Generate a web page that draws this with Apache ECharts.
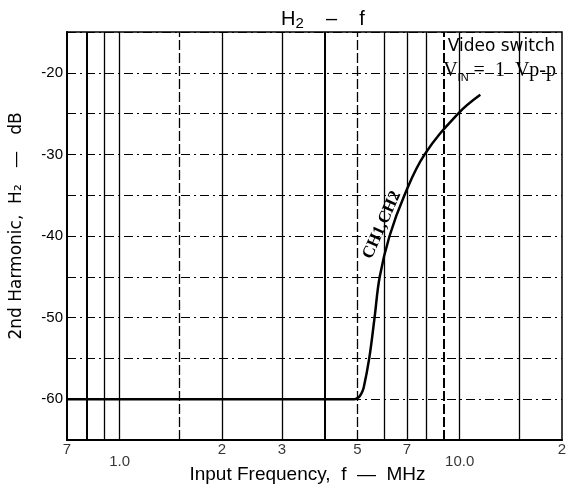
<!DOCTYPE html>
<html>
<head>
<meta charset="utf-8">
<script src="https://cdn.jsdelivr.net/npm/echarts@6/dist/echarts.min.js"></script>
<style>
  html, body { margin: 0; padding: 0; background: #fff; }
  #chart { width: 568px; height: 490px; }
</style>
</head>
<body>
<div id="chart"></div>
<script>
// H2 - f  (2nd harmonic vs input frequency, video switch)
var freqMHz = [0.7, 4.9, 5.05, 5.14, 5.22, 5.42, 5.62, 5.82, 6.22, 6.88, 7.89, 9.9, 11.5];
var h2dB = [-60, -60, -59.75, -59.3, -58.6, -55, -50, -45, -40, -35, -30, -25, -22.7];

// x tick labels (log axis), written as on the sheet
var xTickVals = [0.7, 1, 2, 3, 5, 7, 10, 20];
var xTickText = ['7', '1.0', '2', '3', '5', '7', '10.0', '2'];
var xTickLow = [false, true, false, false, false, false, true, false];

// vertical grid lines
var vGrid = [0.8, 0.9, 1, 1.5, 2, 3, 4, 5, 6, 7, 8, 9, 10, 15];
var vGridBold = [0.8, 4, 9];
var vGridDash = [1.5, 5, 9];

var yLabelShow = [-20, -30, -40, -50, -60];

var chart = echarts.init(document.getElementById('chart'));

var curve = [];
for (var i = 0; i < freqMHz.length; i++) {
  curve.push([freqMHz[i], h2dB[i]]);
}

var tickPts = [];
for (var j = 0; j < xTickVals.length; j++) {
  tickPts.push({
    value: [xTickVals[j], -65],
    name: xTickText[j],
    label: { distance: xTickLow[j] ? 14 : 2 }
  });
}

var gridLines = vGrid.map(function (v) {
  return {
    xAxis: v,
    lineStyle: {
      width: vGridBold.indexOf(v) >= 0 ? 2 : 1.3,
      type: vGridDash.indexOf(v) >= 0 ? [10, 3] : 'solid'
    }
  };
});

var font = 'Liberation Sans, Arial, sans-serif';

var option = {
  animation: false,
  backgroundColor: '#fff',
  title: {
    text: '{h|H}{s|2}{h|    \u2013    f}',
    left: 276,
    top: 2,
    textStyle: {
      fontWeight: 'normal',
      rich: {
        h: { fontFamily: font, fontSize: 20, fontWeight: 'normal', lineHeight: 24, color: '#000' },
        s: { fontFamily: font, fontSize: 15, fontWeight: 'normal', lineHeight: 15, verticalAlign: 'bottom', color: '#000' }
      }
    }
  },
  grid: {
    left: 66, right: 6, top: 32, bottom: 50,
    show: true, borderColor: '#000', borderWidth: 1.5
  },
  xAxis: {
    type: 'log',
    logBase: 10,
    min: 0.7,
    max: 20,
    name: 'Input Frequency,  f  \u2014  MHz',
    nameLocation: 'middle',
    nameGap: 25,
    nameTextStyle: { fontFamily: font, fontSize: 19, color: '#000', padding: [0, 14, 0, 0] },
    axisLine: { lineStyle: { color: '#000', width: 2 } },
    axisTick: { show: false },
    axisLabel: { show: false },
    splitLine: { show: false }
  },
  yAxis: {
    type: 'value',
    min: -65,
    max: -15,
    interval: 5,
    name: '2nd Harmonic,  H\u2082   \u2014   dB',
    nameLocation: 'middle',
    nameGap: 42,
    nameRotate: 90,
    nameTextStyle: { fontFamily: 'DejaVu Sans, sans-serif', fontSize: 17, color: '#000', padding: [0, 0, 0, 20] },
    axisLine: { show: true, lineStyle: { color: '#000', width: 2 } },
    axisTick: { show: false },
    axisLabel: {
      fontFamily: font, fontSize: 15, color: '#000', margin: 4,
      formatter: function (v) { return yLabelShow.indexOf(v) >= 0 ? String(v) : ''; }
    },
    splitLine: { show: true, lineStyle: { color: '#000', width: 1.2, type: [9, 4, 2, 4] } }
  },
  graphic: [
    {
      type: 'text', right: 13, top: 38,
      style: { text: 'Video switch', font: '17px DejaVu Sans, sans-serif', fill: '#000' }
    },
    {
      type: 'text', right: 12, top: 61,
      style: {
        text: '{v|V}{s|IN}{v| =  1  Vp-p}',
        rich: {
          v: { fontFamily: 'Liberation Serif, serif', fontSize: 20, lineHeight: 24, fill: '#000' },
          s: { fontFamily: 'Liberation Sans, sans-serif', fontSize: 11, lineHeight: 13, verticalAlign: 'bottom', fill: '#000' }
        }
      }
    },
    {
      type: 'text', x: 382, y: 225, rotation: 66 * Math.PI / 180,
      style: { text: 'CH1,CH2', font: 'bold 17px Liberation Serif, serif', fill: '#000', align: 'center', verticalAlign: 'middle' }
    }
  ],
  series: [
    {
      type: 'line',
      data: curve,
      smooth: 0.4,
      showSymbol: false,
      lineStyle: { color: '#000', width: 2.5 },
      markLine: {
        silent: true,
        symbol: 'none',
        label: { show: false },
        lineStyle: { color: '#000' },
        data: gridLines
      },
      z: 5
    },
    {
      type: 'scatter',
      data: tickPts,
      symbolSize: 0,
      clip: false,
      label: {
        show: true,
        position: 'bottom',
        formatter: '{b}',
        fontFamily: font,
        fontSize: 15,
        color: '#000'
      }
    }
  ]
};

chart.setOption(option);
</script>
</body>
</html>
